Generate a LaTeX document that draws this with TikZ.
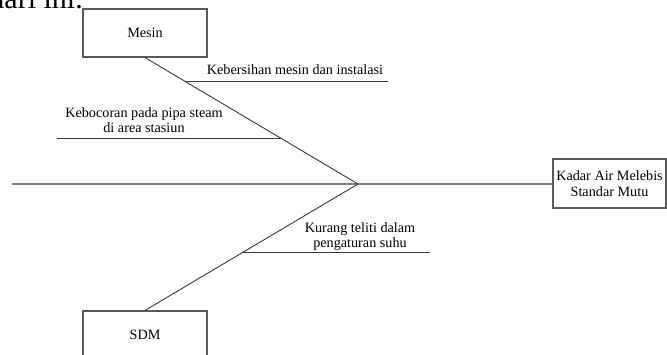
\documentclass[tikz,border=0pt]{standalone}
\usepackage{fontspec}
\setmainfont{Liberation Serif}
\usetikzlibrary{calc}
\definecolor{spinegray}{HTML}{808080}
\definecolor{bonegray}{HTML}{3A3A3A}
\definecolor{boxgray}{HTML}{5A5A5A}
\begin{document}
\begin{tikzpicture}[x=1pt,y=-1pt,
  catbox/.style={draw=boxgray, line width=1.2pt, inner sep=0pt, align=center,
    font=\fontsize{14.2}{15.5}\selectfont},
  lbl/.style={inner sep=0pt, align=center, font=\fontsize{14.2}{15}\selectfont},
  bone/.style={draw=bonegray, line width=0.9pt},
  spine/.style={draw=spinegray, line width=1.5pt}]
\clip (0,0) rectangle (667,354);
\useasboundingbox (0,0) rectangle (667,354);
% cut-off text at top
\node[anchor=base east, inner sep=0pt, font=\fontsize{30}{30}\selectfont] (toptext) at (83,8) {dari ini.};
% boxes
\node[catbox, minimum width=124pt, minimum height=48pt] (mesin) at (145,33) {Mesin};
\node[catbox, minimum width=124pt, minimum height=48pt] (sdm) at (145,335) {SDM};
\node[catbox, minimum width=113pt, minimum height=49pt] (kadar) at (609.5,183.5) {Kadar Air Melebis\\Standar Mutu};
% spine
\coordinate (head) at (358,184);
\coordinate (tail) at (12,184);
\draw[spine] (tail) -- (head -| kadar.west);
% bones
\draw[bone] (mesin.south) -- (head);
\draw[bone] (sdm.north) -- (head);
% branches
\coordinate (b1) at ($(mesin.south)!0.189!(head)$);
\coordinate (b1end) at (388,0);
\draw[bone] (b1) -- (b1 -| b1end);
\coordinate (b2) at ($(mesin.south)!0.638!(head)$);
\coordinate (b2end) at (57,0);
\draw[bone] (b2) -- (b2 -| b2end);
\coordinate (b3) at ($(sdm.north)!0.457!(head)$);
\coordinate (b3end) at (430,0);
\draw[bone] (b3) -- (b3 -| b3end);
% labels
\node[lbl] (l1) at (295,70) {Kebersihan mesin dan instalasi};
\node[lbl] (l2) at (144,120.5) {Kebocoran pada pipa steam\\di area stasiun};
\node[lbl] (l3) at (360,237) {Kurang teliti dalam\\pengaturan suhu};
\end{tikzpicture}
\end{document}
